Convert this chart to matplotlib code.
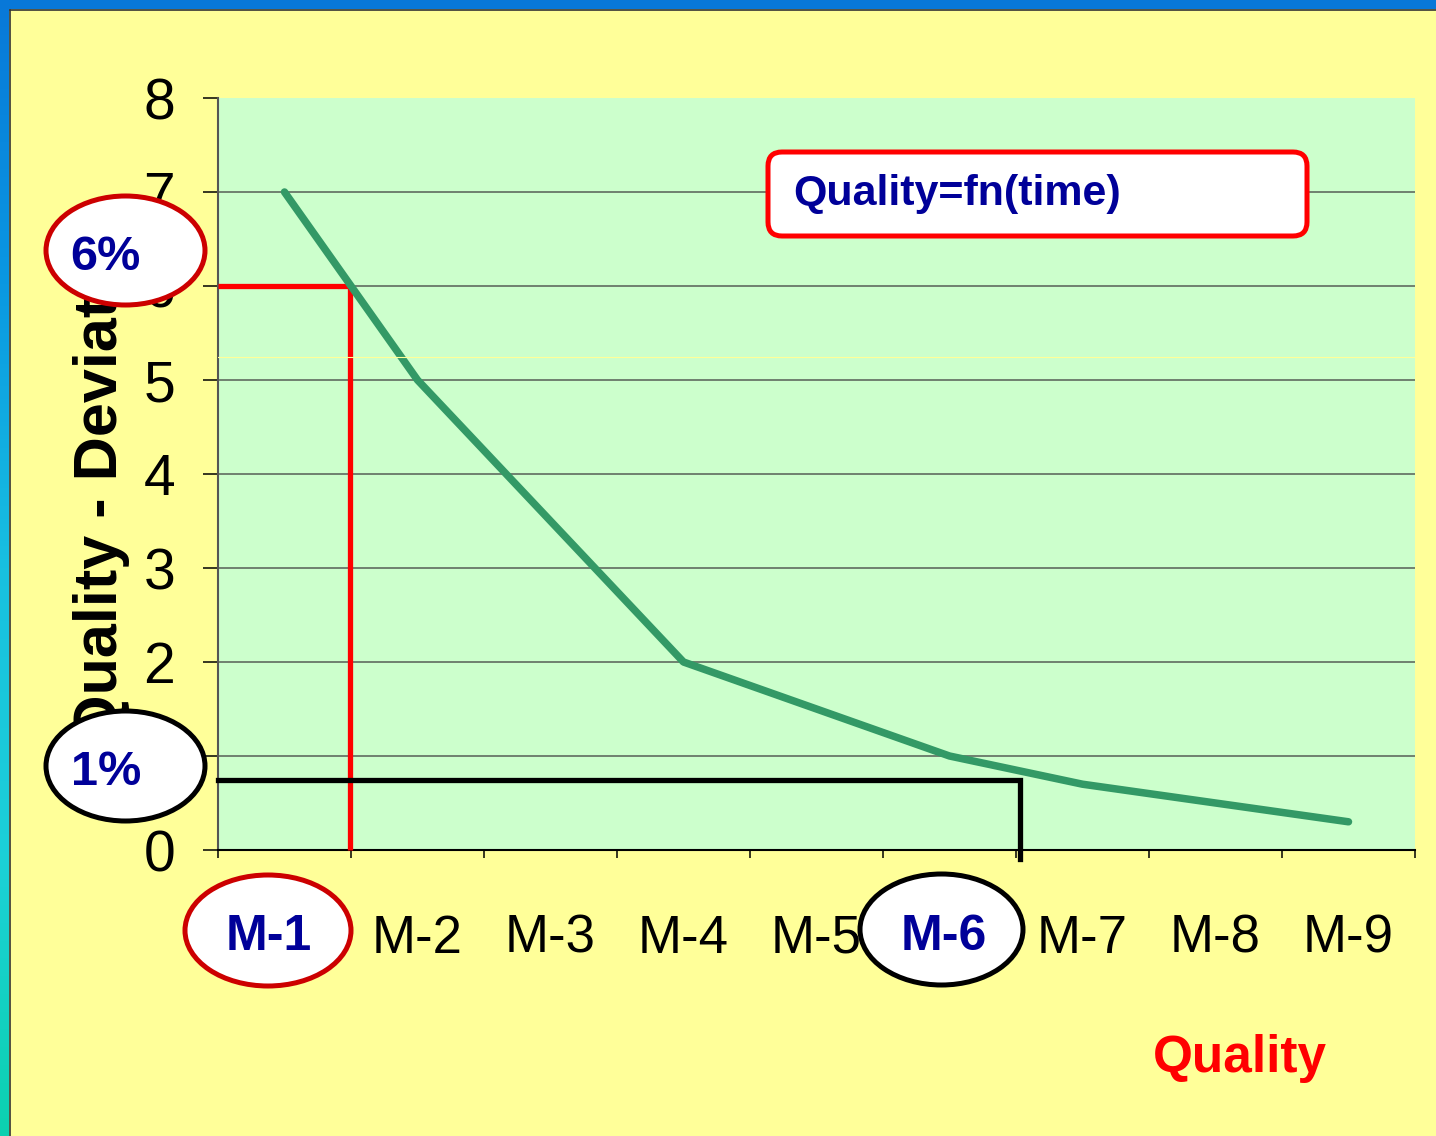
import matplotlib
matplotlib.use("Agg")
import matplotlib.pyplot as plt
import numpy as np
from matplotlib import font_manager
from matplotlib.patches import Ellipse, FancyBboxPatch
from matplotlib.lines import Line2D
from matplotlib.transforms import Affine2D

# ---- data -------------------------------------------------------------
months = ["M-1", "M-2", "M-3", "M-4", "M-5", "M-6", "M-7", "M-8", "M-9"]
deviation = [7, 5, 3.5, 2, 1.5, 1, 0.7, 0.5, 0.3]
y_ticks = [0, 1, 2, 3, 4, 5, 6, 7, 8]
circled_months = ["M-1", "M-6"]
high_level = 6.0      # 6% deviation guide
high_month_edge = 0.99
low_level = 0.75      # 1% deviation guide
low_month_edge = 6.03

# ---- canvas -----------------------------------------------------------
W, H, DPI = 1436, 1136, 100
avail = {f.name for f in font_manager.fontManager.ttflist}
NARROW = "Liberation Sans Narrow" if "Liberation Sans Narrow" in avail else "Liberation Sans"
SANS = "Liberation Sans"
plt.rcParams["font.family"] = [SANS, "DejaVu Sans"]
tick_size = 42 if NARROW != SANS else 38

fig = plt.figure(figsize=(W / DPI, H / DPI), dpi=DPI, facecolor="#FFFF99")
# pixel coordinates measured from the top-left corner
px = Affine2D().scale(1 / W, -1 / H).translate(0, 1) + fig.transFigure

# slide frame: blue band on top, blue-to-teal band on the left
top_ax = fig.add_axes([0, 1 - 9 / H, 1, 9 / H])
top_ax.set_axis_off()
top_ax.imshow([[0, 0]], cmap=matplotlib.colors.ListedColormap(["#0878D8"]),
              aspect="auto", extent=[0, 1, 0, 1])
left_ax = fig.add_axes([0, 0, 9 / W, 1])
left_ax.set_axis_off()
grad = matplotlib.colors.LinearSegmentedColormap.from_list(
    "frame", ["#0878D8", "#0A98E2", "#18C0E0", "#1CD0D8", "#0CD0B0"])
left_ax.imshow(np.linspace(0, 1, 256).reshape(-1, 1), cmap=grad,
               aspect="auto", extent=[0, 1, 0, 1], origin="upper")
fig.add_artist(Line2D([9.5, 9.5], [9.5, H], transform=px, color="#333333", lw=1.2))
fig.add_artist(Line2D([9.5, W], [9.5, 9.5], transform=px, color="#333333", lw=1.2))

# ---- plot area --------------------------------------------------------
ax = fig.add_axes([218 / W, 1 - 850 / H, (1415 - 218) / W, (850 - 98) / H])
ax.set_facecolor("#CCFFCC")
ax.set_xlim(0, len(months))
ax.set_ylim(0, 8)
centers = np.arange(len(months)) + 0.5

for s in ("top", "right"):
    ax.spines[s].set_visible(False)
ax.spines["left"].set_color("#555555")
ax.spines["left"].set_linewidth(1.5)
ax.spines["bottom"].set_color("black")
ax.spines["bottom"].set_linewidth(1.5)

ax.set_yticks(y_ticks)
ax.set_yticklabels([str(v) for v in y_ticks], fontfamily=NARROW, fontsize=41)
ax.tick_params(axis="y", length=10.8, width=1.1, pad=20, color="black")

ax.set_xticks(np.arange(len(months) + 1))
ax.set_xticklabels([])
ax.tick_params(axis="x", which="major", length=5.8, width=1.1, color="black")
ax.set_xticks(centers, minor=True)
ax.set_xticklabels(["" if m in circled_months else m for m in months], minor=True,
                   fontfamily=NARROW, fontsize=tick_size)
ax.tick_params(axis="x", which="minor", length=0, pad=46)

ax.hlines(y_ticks[1:-1], 0, len(months), colors="#5F6B5F", lw=1.2, zorder=1)

# guide lines for the two deviation levels
ax.plot([0, high_month_edge], [high_level, high_level], color="#FF0000", lw=3.8,
        zorder=3, clip_on=False, solid_capstyle="butt")
ax.plot([high_month_edge, high_month_edge], [high_level, 0], color="#FF0000", lw=3.8,
        zorder=3, clip_on=False, solid_capstyle="butt")
ax.plot([0, low_month_edge, low_month_edge], [low_level, low_level, -0.1],
        color="black", lw=3.8, zorder=3, clip_on=False, solid_joinstyle="miter")

ax.plot(centers, deviation, color="#339966", lw=5.4, zorder=4,
        solid_capstyle="round", solid_joinstyle="round")
ax.axhline(5.25, color="#FFFF99", lw=0.8, zorder=5)

# ---- annotations ------------------------------------------------------
fig.text(101, 474, "Quality - Deviation", transform=px, rotation=90,
         ha="center", va="center", fontsize=44, fontweight="bold",
         color="black", zorder=1)

box = FancyBboxPatch((768, 152), 539, 84, transform=px,
                     boxstyle="round,pad=0,rounding_size=14",
                     facecolor="white", edgecolor="#FF0000", lw=3.6, zorder=2)
fig.add_artist(box)
fig.text(793, 194, "Quality=fn(time)", transform=px, ha="left", va="center",
         fontsize=31, fontweight="bold", color="#000099", zorder=3)

callouts = [
    # (cx, cy, w, h, edge, label, tx, baseline, size)
    (125.5, 250.5, 159, 109, "#CC0000", "6%", 105, 270, 35),
    (125.5, 766, 159, 110, "black", "1%", 106, 785, 35),
    (268, 930.5, 166, 111, "#CC0000", circled_months[0], 269, 950, 36),
    (941.5, 929.5, 163, 111, "black", circled_months[1], 944, 950, 36),
]
for cx, cy, w, h, ec, lab, tx, ty, fs in callouts:
    fig.add_artist(Ellipse((cx, cy), w, h, transform=px, facecolor="white",
                           edgecolor=ec, lw=3.6, zorder=2))
    fig.text(tx, ty, lab, transform=px, ha="center", va="baseline",
             fontsize=fs, fontweight="bold", color="#000099", zorder=3)

fig.text(1240, 1072, "Quality", transform=px, ha="center", va="baseline",
         fontsize=37, fontweight="bold", color="#FF0000", zorder=3)

fig.savefig("out.png", dpi=DPI, facecolor=fig.get_facecolor())
